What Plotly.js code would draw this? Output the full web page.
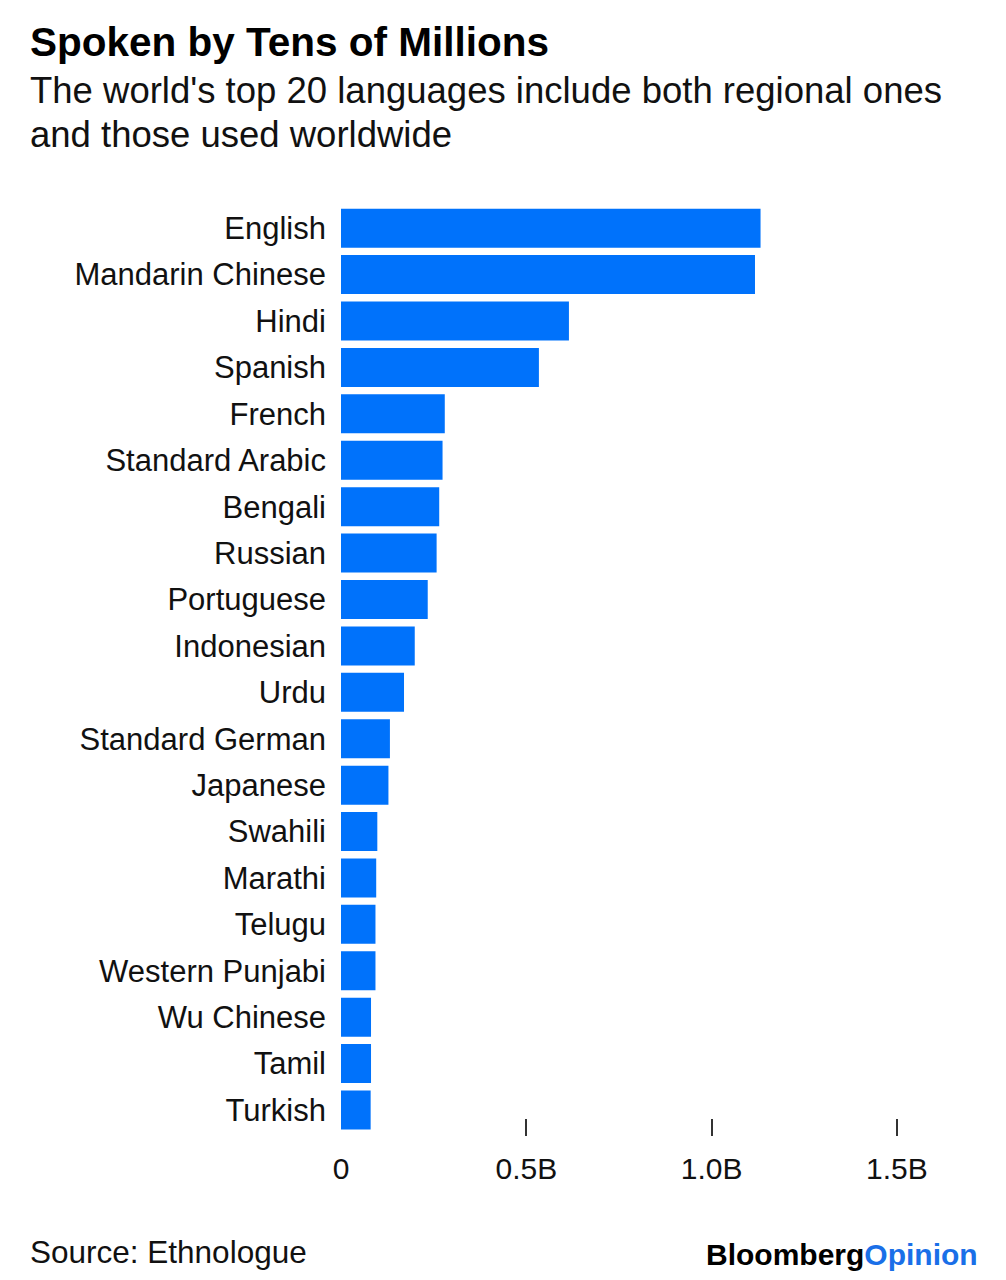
<!DOCTYPE html>
<html>
<head>
<meta charset="utf-8">
<script src="https://cdn.plot.ly/plotly-3.0.1.min.js"></script>
<style>html,body{margin:0;padding:0;background:#fff;}</style>
</head>
<body>
<div id="chart" style="width:1006px;height:1280px;"></div>
<script>
const languages = ["English","Mandarin Chinese","Hindi","Spanish","French","Standard Arabic","Bengali","Russian","Portuguese","Indonesian","Urdu","Standard German","Japanese","Swahili","Marathi","Telugu","Western Punjabi","Wu Chinese","Tamil","Turkish"];
const speakers = [1132e6,1117e6,615e6,534e6,280e6,274e6,265e6,258e6,234e6,199e6,170e6,132e6,128e6,98e6,95e6,93e6,93e6,81e6,81e6,80e6];
const tickValues = [0,0.5e9,1.0e9,1.5e9];
const tickLabels = ["0","0.5B","1.0B","1.5B"];
const markTicks = [0.5e9,1.0e9,1.5e9];

const font = "Liberation Sans, Arial, Helvetica, sans-serif";
const W = 1006 - 341 - 72, H = 931;
const px = v => (v - 341) / W;
const py = v => (1136 - v) / H;
const trace = {
  type: "bar", orientation: "h",
  x: speakers, y: languages,
  marker: {color: "#0072fb"},
  hoverinfo: "none"
};
const tickTrace = {type:"scatter", x:[], y:[], xaxis:"x2", yaxis:"y", showlegend:false};
const layout = {
  width: 1006, height: 1280,
  margin: {l: 341, r: 72, t: 205, b: 144},
  paper_bgcolor: "#fff", plot_bgcolor: "#fff",
  showlegend: false,
  bargap: 0.16,
  font: {family: font, color: "#111"},
  xaxis: {
    range: [0, 1.6e9], tickvals: tickValues, ticktext: tickLabels,
    ticks: "", showgrid: false, zeroline: false, showline: false,
    tickfont: {size: 30, color: "#111"}, ticklabelstandoff: 12
  },
  xaxis2: {
    overlaying: "x", matches: "x", range: [0, 1.6e9], side: "bottom", anchor: "y",
    tickvals: markTicks, ticks: "inside", ticklen: 17, tickwidth: 2, tickcolor: "#333",
    showticklabels: false, showgrid: false, zeroline: false, showline: false
  },
  yaxis: {
    categoryorder: "array", categoryarray: languages,
    range: [19.56, -0.5], showgrid: false, zeroline: false, showline: false,
    ticks: "", tickfont: {size: 31, color: "#111"}, ticklabelstandoff: 14
  },
  annotations: [
    {text: "<b>Spoken by Tens of Millions</b>", xref: "paper", yref: "paper", x: px(28), xanchor: "left", y: py(42), yanchor: "middle", showarrow: false, font: {size: 40.5, color: "#000", family: font}},
    {text: "The world's top 20 languages include both regional ones", xref: "paper", yref: "paper", x: px(28), xanchor: "left", y: py(90), yanchor: "middle", showarrow: false, font: {size: 36.5, color: "#111", family: font}},
    {text: "and those used worldwide", xref: "paper", yref: "paper", x: px(28), xanchor: "left", y: py(134), yanchor: "middle", showarrow: false, font: {size: 36.5, color: "#111", family: font}},
    {text: "Source: Ethnologue", xref: "paper", yref: "paper", x: px(28), xanchor: "left", y: py(1252), yanchor: "middle", showarrow: false, font: {size: 31.5, color: "#111", family: font}},
    {text: "<b>Bloomberg</b><b><span style='color:#1a6fe8'>Opinion</span></b>", xref: "paper", yref: "paper", x: px(980), xanchor: "right", y: py(1254), yanchor: "middle", showarrow: false, font: {size: 30, color: "#000", family: font}}
  ]
};
Plotly.newPlot("chart", [trace, tickTrace], layout, {staticPlot: true, displayModeBar: false});
</script>
</body>
</html>
